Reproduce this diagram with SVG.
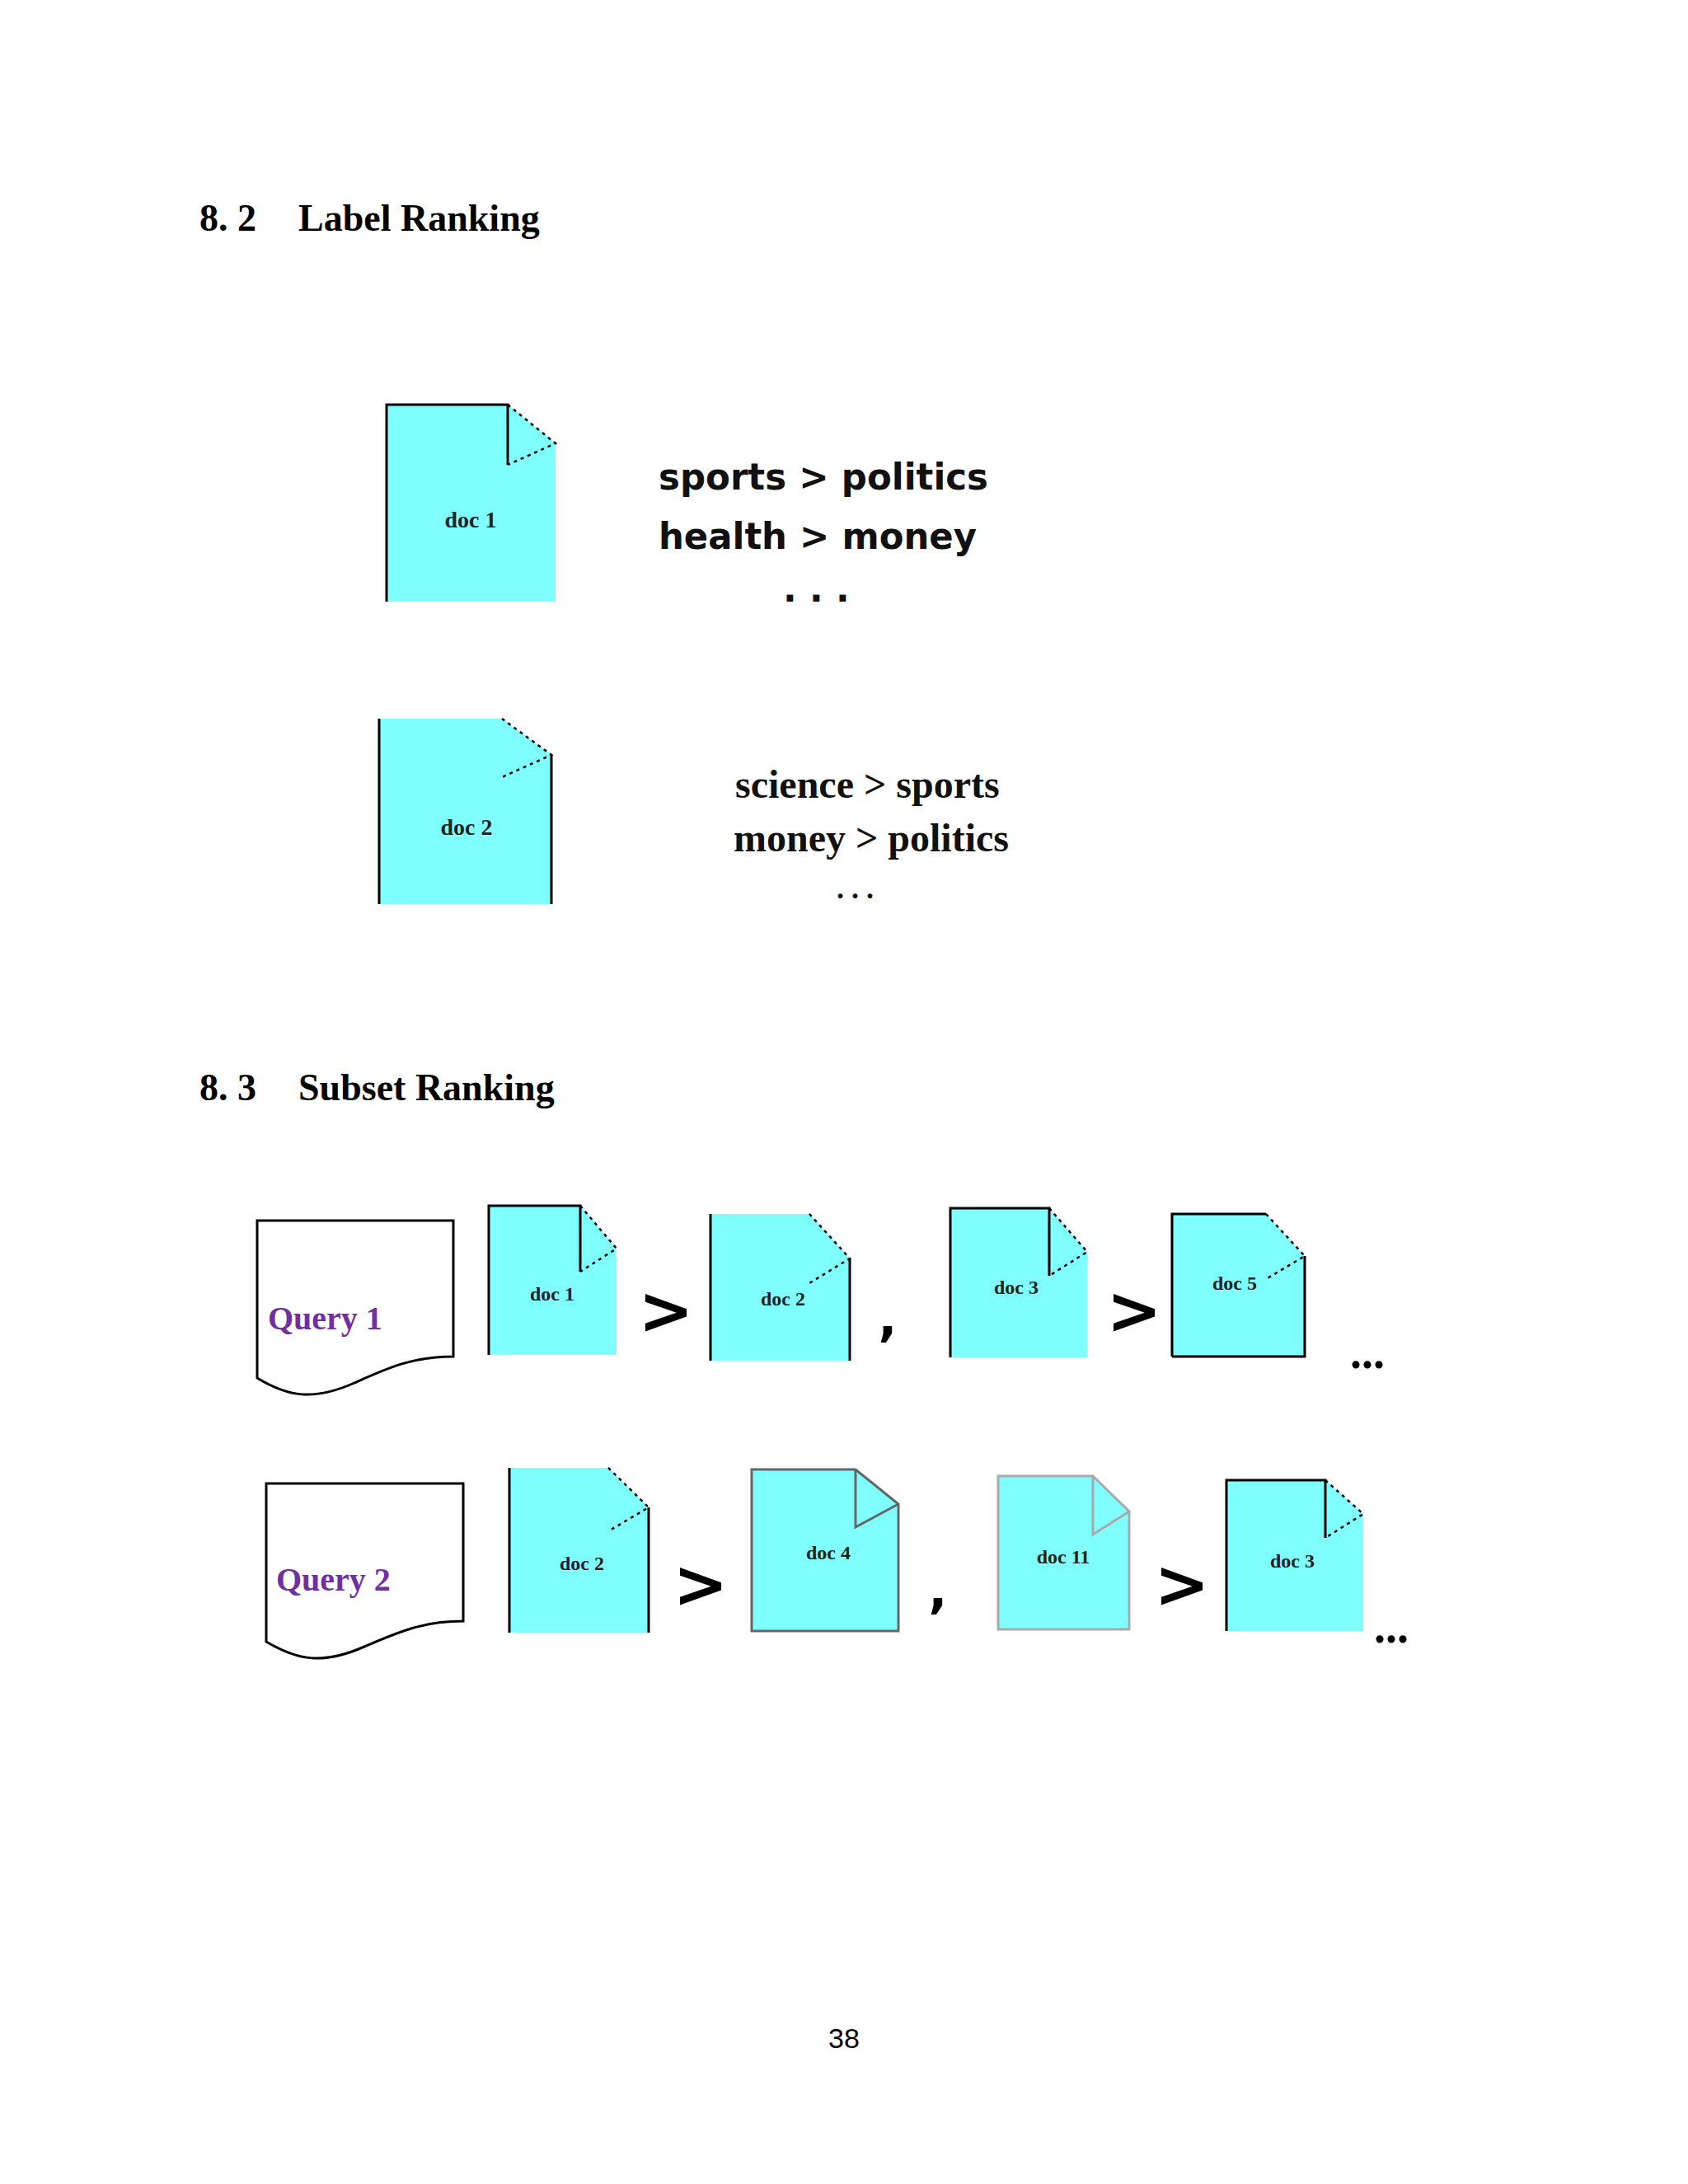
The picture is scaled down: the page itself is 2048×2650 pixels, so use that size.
<svg xmlns="http://www.w3.org/2000/svg" width="2048" height="2650" viewBox="0 0 2048 2650">
<style>
.h{font-family:"Liberation Serif",serif;font-weight:bold;font-size:46px;fill:#000}
.doc{fill:#80ffff;stroke:none}
.edge{fill:none;stroke:#000;stroke-width:3}
.dot{fill:none;stroke:#000;stroke-width:2.5;stroke-dasharray:4 5}
.dl{font-family:"Liberation Serif",serif;font-weight:bold;font-size:24px;fill:#222;text-anchor:middle}
.lab{font-family:"DejaVu Sans",sans-serif;font-weight:bold;font-size:44px;fill:#111}
.lab2{font-family:"Liberation Serif",serif;font-weight:bold;font-size:48px;fill:#111}
.q{font-family:"Liberation Serif",serif;font-weight:bold;font-size:40px;fill:#7030a0}
.gt{font-family:"DejaVu Sans",sans-serif;font-weight:bold;font-size:80px;fill:#000;text-anchor:middle}
.el{font-family:"Liberation Serif",serif;font-weight:bold;font-size:56px;fill:#000;text-anchor:middle}
.qs{fill:#fff;stroke:#000;stroke-width:3}
</style>
<rect width="2048" height="2650" fill="#fff"/>
<text class="h" x="242" y="280">8. 2</text>
<text class="h" x="362" y="280">Label Ranking</text>
<text class="h" x="242" y="1335">8. 3</text>
<text class="h" x="362" y="1335">Subset Ranking</text>

<g id="ldoc1">
<polygon class="doc" points="469,491 616,491 674,538 674,730 469,730"/>
<polyline class="edge" points="469,730 469,491 616,491 616,564"/>
<polyline class="dot" points="616,491 674,538 616,564"/>
<text class="dl" x="571" y="640" style="font-size:28px">doc 1</text>
</g>
<g id="labels1">
<text class="lab" x="799" y="594" textLength="400" lengthAdjust="spacingAndGlyphs">sports &gt; politics</text>
<text class="lab" x="799" y="666" textLength="386" lengthAdjust="spacingAndGlyphs">health &gt; money</text>
<text class="lab" x="950" y="730">. . .</text>
</g>
<g id="ldoc2">
<polygon class="doc" points="460,872 609,872 669,916 669,1097 460,1097"/>
<polyline class="edge" points="460,1097 460,872"/>
<polyline class="edge" points="669,916 669,1097"/>
<polyline class="dot" points="609,872 669,916 609,943"/>
<text class="dl" x="566" y="1013" style="font-size:28px">doc 2</text>
</g>
<g id="labels2">
<text class="lab2" x="892" y="968">science &gt; sports</text>
<text class="lab2" x="890" y="1033">money &gt; politics</text>
<text class="lab2" x="1015" y="1090" style="font-size:36px">. . .</text>
</g>

<g id="query1">
<path class="qs" d="M312,1481 L550,1481 L550,1646 C500,1646 470,1660 430,1678 C380,1700 350,1695 312,1672 Z"/>
<text class="q" x="325" y="1613">Query  1</text>
</g>
<g id="query2">
<path class="qs" d="M323,1800 L562,1800 L562,1967 C512,1967 482,1981 442,1998 C392,2020 362,2015 323,1992 Z"/>
<text class="q" x="335" y="1930">Query  2</text>
</g>

<g id="r1d1">
<polygon class="doc" points="593,1463 704,1463 748,1515 748,1644 593,1644"/>
<polyline class="edge" points="593,1644 593,1463 704,1463 704,1543"/>
<polyline class="dot" points="704,1463 748,1515 704,1543"/>
<text class="dl" x="670" y="1578">doc 1</text>
</g>
<g id="r1d2">
<polygon class="doc" points="862,1473 982,1473 1031,1527 1031,1651 862,1651"/>
<polyline class="edge" points="862,1651 862,1473"/>
<polyline class="edge" points="1031,1527 1031,1651"/>
<polyline class="dot" points="982,1473 1031,1527 982,1557"/>
<text class="dl" x="950" y="1584">doc 2</text>
</g>
<g id="r1d3">
<polygon class="doc" points="1153,1466 1273,1466 1319,1519 1319,1647 1153,1647"/>
<polyline class="edge" points="1153,1647 1153,1466 1273,1466 1273,1548"/>
<polyline class="dot" points="1273,1466 1319,1519 1273,1548"/>
<text class="dl" x="1233" y="1570">doc 3</text>
</g>
<g id="r1d5">
<polygon class="doc" points="1422,1473 1536,1473 1583,1524 1583,1646 1422,1646"/>
<polyline class="edge" points="1422,1646 1422,1473 1536,1473"/>
<polyline class="edge" points="1583,1524 1583,1646 1422,1646"/>
<polyline class="dot" points="1536,1473 1583,1524 1536,1552"/>
<text class="dl" x="1498" y="1565">doc 5</text>
</g>

<g id="r2d2">
<polygon class="doc" points="618,1781 738,1781 787,1829 787,1981 618,1981"/>
<polyline class="edge" points="618,1981 618,1781"/>
<polyline class="edge" points="787,1829 787,1981"/>
<polyline class="dot" points="738,1781 787,1829 738,1858"/>
<text class="dl" x="706" y="1905">doc 2</text>
</g>
<g id="r2d4">
<polygon points="912,1783 1038,1783 1090,1825 1090,1979 912,1979" fill="#80ffff" stroke="#666" stroke-width="3"/>
<polyline points="1038,1783 1038,1853 1090,1825" fill="none" stroke="#666" stroke-width="3"/>
<text class="dl" x="1005" y="1892">doc 4</text>
</g>
<g id="r2d11">
<polygon points="1211,1791 1326,1791 1370,1834 1370,1977 1211,1977" fill="#80ffff" stroke="#aaa" stroke-width="3"/>
<polyline points="1326,1791 1326,1862 1370,1834" fill="none" stroke="#aaa" stroke-width="3"/>
<text class="dl" x="1290" y="1897">doc 11</text>
</g>
<g id="r2d3">
<polygon class="doc" points="1488,1796 1608,1796 1654,1837 1654,1979 1488,1979"/>
<polyline class="edge" points="1488,1979 1488,1796 1608,1796 1608,1866"/>
<polyline class="dot" points="1608,1796 1654,1837 1608,1866"/>
<text class="dl" x="1568" y="1902">doc 3</text>
</g>

<g id="connectors">
<text class="gt" x="808" y="1618">&gt;</text>
<text class="gt" x="1376" y="1618">&gt;</text>
<text class="gt" x="1077" y="1620" style="font-size:60px">,</text>
<text class="el" x="1659" y="1660">...</text>
<text class="gt" x="850" y="1950">&gt;</text>
<text class="gt" x="1434" y="1950">&gt;</text>
<text class="gt" x="1138" y="1950" style="font-size:60px">,</text>
<text class="el" x="1688" y="1993">...</text>
</g>
<text x="1024" y="2485" font-family="Liberation Sans,sans-serif" font-size="34" text-anchor="middle">38</text>
</svg>
